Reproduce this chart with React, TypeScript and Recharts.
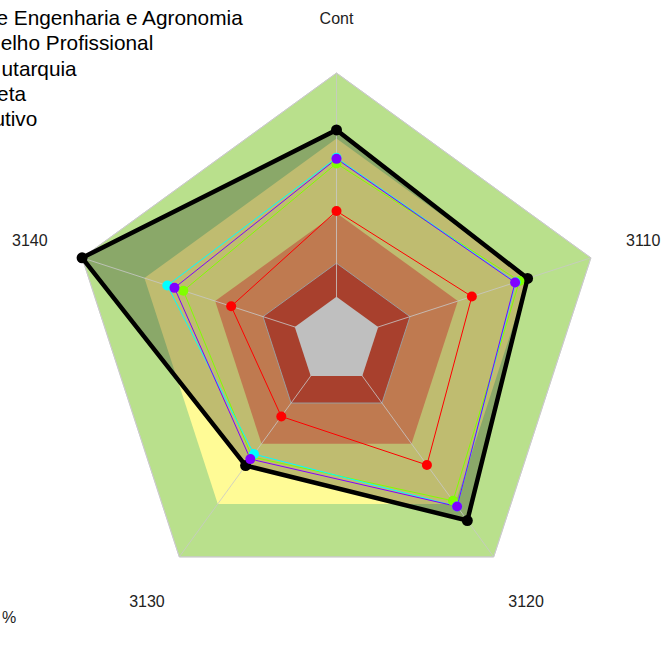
import React from 'react';
import { RadarChart, Radar, PolarGrid, PolarAngleAxis, PolarRadiusAxis } from 'recharts';

const categories = ['Cont', '3110', '3120', '3130', '3140'];

// series values (% of radius)
const blackValues = [78.7, 75.1, 83.2, 57.8, 100];
const purpleValues = [67.9, 70.2, 76.7, 54.8, 63.7];
const cyanValues = [68.3, 70.4, 76.7, 52.5, 66.5];
const limeValues = [66.2, 71.9, 74.1, 53.8, 60.2];
const redValues = [48.4, 53.2, 57.5, 35.1, 41.4];

// background bands
const bandGreen = [100, 100, 100, 100, 100];
const bandYellow = [75.5, 75.5, 75.5, 75.5, 75.5];
const bandOrange = [47.7, 47.7, 47.7, 47.7, 47.7];
const bandDarkRed = [28.9, 28.9, 28.9, 28.9, 28.9];
const bandCenter = [16.4, 16.4, 16.4, 16.4, 16.4];

const legendLabels = [
  'e Engenharia e Agronomia',
  'elho Profissional',
  'utarquia',
  'eta',
  'utivo',
];
const legendEnds = [242.7, 153.3, 76.7, 26, 37.3];
const legendBaselines = [25, 50.3, 75.6, 100.9, 126.2];

const data = categories.map((c, i) => ({
  cat: c,
  black: blackValues[i],
  purple: purpleValues[i],
  cyan: cyanValues[i],
  lime: limeValues[i],
  red: redValues[i],
  g: bandGreen[i],
  y: bandYellow[i],
  o: bandOrange[i],
  d: bandDarkRed[i],
  c0: bandCenter[i],
}));

const FONT = '"Liberation Sans", Arial, sans-serif';

const AngleTick = (props: any) => {
  const { x, y, payload } = props;
  return (
    <text x={x} y={y} textAnchor="middle" dominantBaseline="central" fontSize={16} fontFamily={FONT} fill="#222">
      {payload.value}
    </text>
  );
};

const makeDot = (color: string, r: number) => (props: any) => {
  const { cx, cy, index } = props;
  if (cx == null || cy == null) return <g key={`e${index}`} />;
  return <circle key={`d${index}`} cx={cx} cy={cy} r={r} fill={color} stroke="none" />;
};

export default function App() {
  return (
    <div style={{ position: 'absolute', left: 0, top: 0 }}>
      <RadarChart
        width={664}
        height={670}
        data={data}
        cx={336.5}
        cy={340.5}
        outerRadius={267.5}
        margin={{ top: 0, right: 0, bottom: 0, left: 0 }}
      >
        <PolarRadiusAxis domain={[0, 100]} type="number" tick={false} axisLine={false} />
        <PolarAngleAxis
          dataKey="cat"
          tick={<AngleTick />}
          tickSize={55}
          tickLine={false}
          axisLine={false}
        />
        <Radar dataKey="g" fill="#b9e08c" fillOpacity={1} stroke="#cfcfcf" strokeWidth={1} isAnimationActive={false} />
        <Radar dataKey="y" fill="#fffb96" fillOpacity={1} stroke="none" isAnimationActive={false} />
        <Radar dataKey="o" fill="#ffa36b" fillOpacity={1} stroke="none" isAnimationActive={false} />
        <Radar dataKey="d" fill="#e0563c" fillOpacity={1} stroke="#d0d0d0" strokeWidth={1} isAnimationActive={false} />
        <Radar dataKey="black" fill="#000000" fillOpacity={0.25} stroke="none" isAnimationActive={false} />
        <PolarGrid
          gridType="polygon"
          polarRadius={[267.5]}
          stroke="#c8c8c8"
          strokeOpacity={0.8}
          zIndex={150}
        />
        <Radar dataKey="c0" fill="#bfbfbf" fillOpacity={1} stroke="none" isAnimationActive={false} zIndex={200} />
        <Radar
          dataKey="black"
          fill="none"
          fillOpacity={0}
          stroke="#000000"
          strokeWidth={4.5}
          dot={makeDot('#000000', 5.5)}
          isAnimationActive={false}
          zIndex={300}
        />
        <Radar
          dataKey="red"
          fill="none"
          fillOpacity={0}
          stroke="#ff0000"
          strokeWidth={1}
          dot={makeDot('#ff0000', 5)}
          isAnimationActive={false}
          zIndex={300}
        />
        <Radar
          dataKey="lime"
          fill="none"
          fillOpacity={0}
          stroke="#80ff00"
          strokeWidth={1}
          dot={makeDot('#80ff00', 5)}
          isAnimationActive={false}
          zIndex={300}
        />
        <Radar
          dataKey="cyan"
          fill="none"
          fillOpacity={0}
          stroke="#00ffff"
          strokeWidth={1}
          dot={makeDot('#00ffff', 5)}
          isAnimationActive={false}
          zIndex={300}
        />
        <Radar
          dataKey="purple"
          fill="none"
          fillOpacity={0}
          stroke="#8000ff"
          strokeWidth={1}
          dot={makeDot('#8000ff', 5)}
          isAnimationActive={false}
          zIndex={300}
        />
        <g>
          {legendLabels.map((t, i) => (
            <text
              key={t}
              x={legendEnds[i]}
              y={legendBaselines[i]}
              textAnchor="end"
              fontSize={20.8}
              fontFamily={FONT}
              fill="#000"
            >
              {t}
            </text>
          ))}
          <text x={2} y={623} fontSize={16} fontFamily={FONT} fill="#222">%</text>
        </g>
      </RadarChart>
    </div>
  );
}
